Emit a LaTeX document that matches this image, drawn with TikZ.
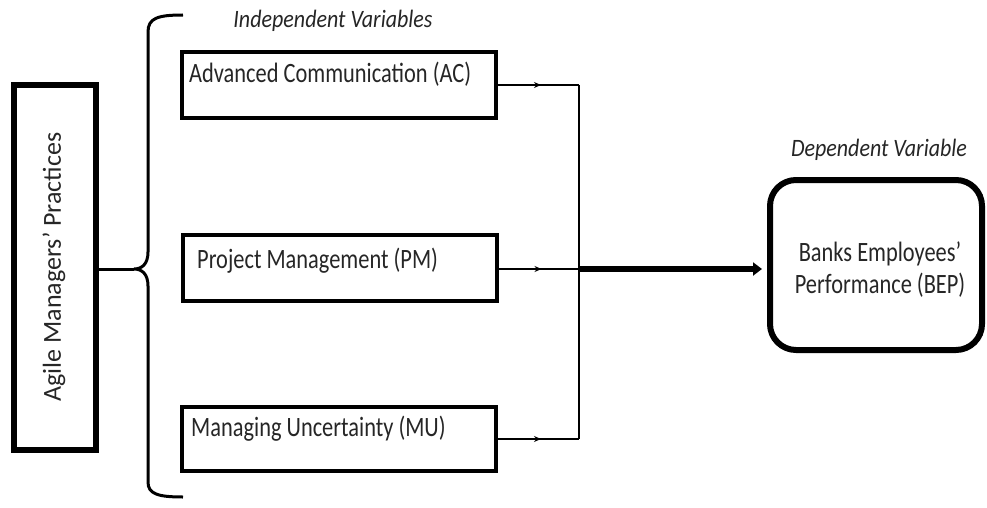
\documentclass[tikz,border=0pt]{standalone}
\usepackage{fontspec}
\setmainfont{Carlito}
\newfontfamily\condfont[FakeStretch=0.8]{Carlito}
\newfontfamily\condital[FakeStretch=0.88]{Carlito}
\usetikzlibrary{arrows.meta,decorations.markings}
\begin{document}
\begin{tikzpicture}[x=1pt,y=-1pt,
  txt/.style={font=\condfont\fontsize{28}{32}\selectfont, inner sep=0pt, text=black!85},
  itxt/.style={font=\condital\fontsize{25}{30}\selectfont\itshape, inner sep=0pt, text=black!85},
  varbox/.style={draw, line width=4pt, minimum width=314pt, minimum height=66pt, inner sep=0pt},
  conn/.style={line width=1.5pt},
  midarrow/.style={conn, postaction={decorate}, decoration={markings, mark=at position 43pt with {\arrow{Stealth[length=7pt,width=6pt]}}}}
]
\useasboundingbox (0,0) rectangle (987,508);
% left box
\node[draw, line width=6pt, minimum width=82pt, minimum height=365pt, inner sep=0pt] (agile) at (55,267.5) {};
\node[rotate=90, inner sep=0pt, text=black!85, font=\fontsize{26}{30}\selectfont] (agiletext) at (54,267) {Agile Managers’ Practices};
% variable boxes
\node[varbox] (ac) at (339,85) {};
\node[varbox] (pm) at (339.5,268) {};
\node[varbox, minimum height=64pt] (mu) at (339,439) {};
\node[txt, anchor=base west] (actext) at (189,83) {Advanced Communication (AC)};
\node[txt, anchor=base west] (pmtext) at (197,268) {Project Management (PM)};
\node[txt, anchor=base west] (mutext) at (191,436) {Managing Uncertainty (MU)};
% dependent box
\node[draw, line width=6pt, rounded corners=26pt, minimum width=212pt, minimum height=170pt, inner sep=0pt] (bep) at (876,265) {};
\node[txt, anchor=base] (beptexta) at (880,261) {Banks Employees’};
\node[txt, anchor=base] (beptextb) at (880,293) {Performance (BEP)};
% headings
\node[itxt, anchor=base] (indep) at (333,28) {Independent Variables};
\node[itxt, anchor=base] (dep) at (879,157) {Dependent Variable};
% brace
\coordinate (tip) at (134,269);
\draw[line width=3pt] (183,15) .. controls (158,15) and (148,18) .. (148,32) -- (148,252) .. controls (148,264) and (142,269) .. (tip) .. controls (142,269) and (148,274) .. (148,286) -- (148,482) .. controls (148,494) and (158,497) .. (183,497);
\draw[line width=3pt] (agile.east |- tip) -- (tip);
% connectors
\coordinate (jn) at (579,269);
\draw[midarrow] (ac.east) -- (ac.east -| jn);
\draw[midarrow] (pm.east |- jn) -- (jn);
\draw[midarrow] (mu.east) -- (mu.east -| jn);
\draw[conn] (ac.east -| jn) -- (mu.east -| jn);
\draw[line width=5.5pt, -{Triangle[length=9pt,width=13pt]}, shorten >=5pt] (jn) -- (bep.west |- jn);
\end{tikzpicture}
\end{document}
